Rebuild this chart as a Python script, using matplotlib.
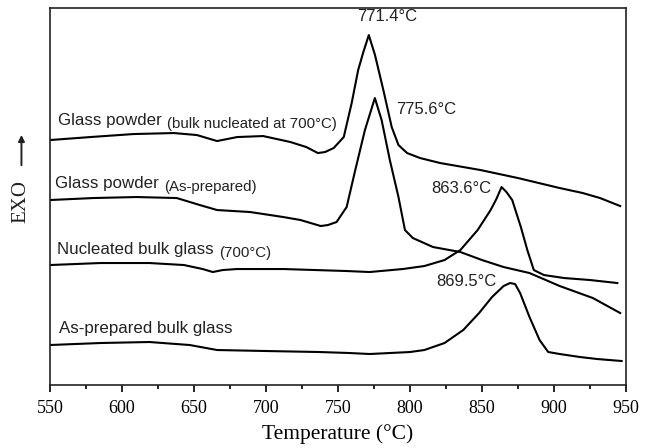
"""DTA traces of glass powder and bulk glass, as-prepared vs. nucleated at 700 °C."""

import matplotlib.pyplot as plt
from matplotlib.ticker import MultipleLocator

# %% Data (signal in arbitrary units, offset per trace)
t_powder_nuc = [550, 578, 608, 636, 652, 666, 680, 698, 717, 728, 736, 741, 747,
                754, 759.5, 764, 767.6, 771.4, 775.7, 781.5, 787.3, 792, 798,
                807, 821, 849, 875, 904, 920, 932, 946]
y_powder_nuc = [245, 248, 251, 252, 250, 244, 248, 249, 243, 238, 232, 233, 237,
                248, 282, 315, 333, 350, 330, 295, 258, 240, 232,
                227, 222, 215, 207, 197, 192, 187, 179]

t_powder_raw = [550, 580, 610, 638, 654, 666, 689, 712, 724, 731, 738, 743, 749,
                756, 762, 768.7, 775.6, 780.3, 786, 792, 796.5, 802, 816, 835,
                850, 865, 883, 904, 927, 946]
y_powder_raw = [185, 187, 188, 187, 180, 175, 173, 168, 165, 162, 159, 160, 163,
                178, 215, 255, 287, 265, 225, 188, 155, 147, 138, 133,
                125, 118, 112, 99, 87, 72]

t_bulk_nuc = [550, 585, 619, 643, 656, 663, 670, 680, 712, 756, 772, 795, 810,
              824, 835, 847, 856, 860, 863.6, 867, 871, 877, 881.5, 886, 893,
              907, 925, 944]
y_bulk_nuc = [120, 122, 122, 120, 116, 113, 115, 116, 116, 114, 113, 116, 119,
              125, 135, 155, 175, 186, 198, 193, 185, 158, 135, 115, 110,
              107, 105, 102]

t_bulk_raw = [550, 585, 619, 647, 666, 700, 737, 758, 772, 800, 810, 824, 837,
              848, 857, 865, 869.5, 873, 876.5, 883, 890, 896, 904, 918, 930, 947]
y_bulk_raw = [40, 42, 43, 40, 35, 34, 33, 32, 31, 33, 35, 42, 55,
              72, 88, 99, 102, 101, 92, 68, 45, 33, 31, 28, 26, 24]

peak_temps = [771.4, 775.6, 863.6, 869.5]
peak_labels = [f"{t}°C" for t in peak_temps]

# %% Plot
plt.rcParams["font.family"] = ["Liberation Sans", "DejaVu Sans"]
fig = plt.figure(figsize=(6.5, 4.48), dpi=100)
ax = fig.add_axes([0.077, 0.1406, 0.886, 0.8414])

for t, y in [(t_powder_nuc, y_powder_nuc), (t_powder_raw, y_powder_raw),
             (t_bulk_nuc, y_bulk_nuc), (t_bulk_raw, y_bulk_raw)]:
    ax.plot(t, y, color="black", lw=1.5, solid_joinstyle="round")

ax.set_xlim(550, 950)
ax.set_ylim(0, 377)
ax.set_yticks([])
ax.xaxis.set_major_locator(MultipleLocator(50))
ax.xaxis.set_minor_locator(MultipleLocator(25))
ax.tick_params(axis="x", which="major", direction="out", length=5, width=1.2,
               labelsize=13, pad=6)
ax.tick_params(axis="x", which="minor", direction="out", length=3, width=1.2)
for lab in ax.get_xticklabels():
    lab.set_family("Liberation Serif")
for sp in ax.spines.values():
    sp.set_linewidth(1.2)
    sp.set_color("#222222")

ax.set_xlabel("Temperature (°C)", family="Liberation Serif", fontsize=15.5,
              labelpad=5)

# trace labels: main name plus a smaller note in brackets
txt = dict(color="#222222", va="baseline", ha="left")
labels = [
    (555.3, 260, "Glass powder", "(bulk nucleated at 700°C)"),
    (553.2, 197.5, "Glass powder", "(As-prepared)"),
    (554.6, 131, "Nucleated bulk glass", "(700°C)"),
    (556.0, 52.5, "As-prepared bulk glass", None),
]
for x, y, main, note in labels:
    t = ax.text(x, y, main, fontsize=12.2, **txt)
    if note:
        ax.annotate(note, xy=(1, 0), xycoords=t, xytext=(4, 0),
                    textcoords="offset points", fontsize=10.8, **txt)

# peak temperatures
peak_pos = [(784, 364), (811, 271), (835.8, 192), (839.2, 99)]
for lab, (px, py) in zip(peak_labels, peak_pos):
    ax.text(px, py, lab, fontsize=12, color="#222222", ha="center",
            va="baseline")

# exotherm direction
fig.text(0.032, 0.551, "EXO", rotation=90, family="Liberation Serif",
         fontsize=15, ha="center", va="center", color="#222222")
ax.annotate("", xy=(0.033, 0.705), xycoords="figure fraction",
            xytext=(0.033, 0.625), textcoords="figure fraction",
            arrowprops=dict(arrowstyle="-|>", lw=1.4, color="#222222",
                            mutation_scale=9))

fig.savefig("out.png", dpi=100)
